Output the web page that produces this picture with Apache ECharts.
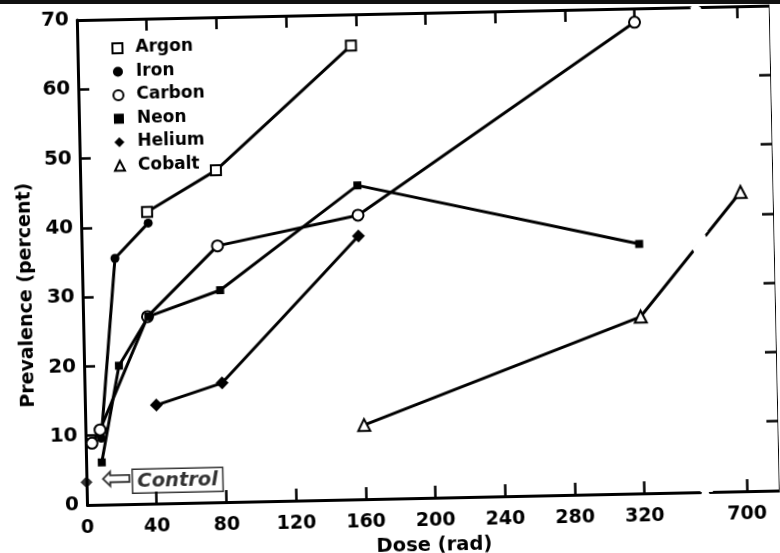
<!DOCTYPE html>
<html>
<head>
<meta charset="utf-8">
<script src="https://cdn.jsdelivr.net/npm/echarts@6.0.0/dist/echarts.min.js"></script>
<style>
html, body { margin: 0; padding: 0; background: #fff; overflow: hidden; width: 780px; height: 553px; }
#scanEdge { position: absolute; left: 0; top: 0; width: 780px; height: 4px; background: #111; z-index: 2; }
#chart { position: absolute; left: 0; top: 0; width: 780px; height: 580px;
         transform: rotate(-1.2deg); transform-origin: 87px 505px; }
</style>
</head>
<body>
<div id="scanEdge"></div>
<div id="chart"></div>
<script>
// [dose (rad), prevalence (percent)]
var argon   = [[38, 42.1], [78, 47.9], [157, 65.5]];
var iron    = [[9, 9.6], [19, 35.5], [38.5, 40.5]];
var carbon  = [[3.6, 8.9], [8.4, 10.8], [37, 27], [78, 37], [159, 41], [320, 68]];
var neon    = [[9, 6.1], [20, 20], [37.5, 27], [79, 30.6], [159, 45.3], [320, 36]];
var helium  = [[41, 14.2], [79, 17.2], [159, 38]];
var cobalt  = [[160, 10.7], [320, 25.5], [700, 43.2]];
var control = [[0, 3.3]];

var seriesNames = ['Argon', 'Iron', 'Carbon', 'Neon', 'Helium', 'Cobalt'];
var legendIcons = ['rect', 'circle', 'circle', 'rect', 'diamond', 'triangle'];
var doseTicks = [0, 40, 80, 120, 160, 200, 240, 280, 320, 700];
var topTicks = [40, 80, 120, 160, 200, 240, 280, 320, 700];
var xBreak = { start: 352, end: 679, gap: '1.45%' };

document.addEventListener('DOMContentLoaded', function () {
    var myChart = echarts.init(document.getElementById('chart'));
    var font = 'DejaVu Sans';
    var hollow = { color: '#fff', borderColor: '#000', borderWidth: 2 };
    var solid = { color: '#000', borderColor: '#000', borderWidth: 0 };
    var breakArea = {
        show: true,
        expandOnClick: false,
        zigzagAmplitude: 3,
        itemStyle: { color: '#fff', borderWidth: 0, opacity: 1 }
    };

    function lineSeries(name, data, symbol, size, style) {
        return {
            name: name,
            type: 'line',
            data: data,
            symbol: symbol,
            symbolSize: size,
            itemStyle: style,
            lineStyle: { color: '#000', width: 3 },
            z: 3
        };
    }

    var option = {
        animation: false,
        backgroundColor: '#fff',
        grid: { left: 87, right: 0, top: 20, bottom: 75, outerBoundsMode: 'none', containLabel: false },
        legend: {
            orient: 'vertical',
            left: 116,
            top: 35,
            itemWidth: 10,
            itemHeight: 10,
            itemGap: 5.5,
            selectedMode: false,
            textStyle: { fontSize: 17, fontWeight: 'bold', color: '#000', fontFamily: font, lineHeight: 18, padding: [0, 0, 0, 8] },
            data: seriesNames.map(function (n, i) { return { name: n, icon: legendIcons[i] }; })
        },
        xAxis: [{
            type: 'value',
            min: 0,
            max: 719,
            breaks: [xBreak],
            breakArea: breakArea,
            axisLine: { onZero: false, lineStyle: { color: '#000', width: 3 } },
            axisTick: { inside: true, length: 12, customValues: doseTicks, lineStyle: { color: '#000', width: 2.5 } },
            axisLabel: { customValues: doseTicks, margin: 14, color: '#000', fontSize: 19, fontWeight: 'bold', fontFamily: font },
            splitLine: { show: false },
            name: 'Dose (rad)',
            nameLocation: 'middle',
            nameGap: 36,
            nameTextStyle: { fontSize: 19.5, fontWeight: 'bold', color: '#000', fontFamily: font }
        }, {
            type: 'value',
            position: 'top',
            min: 0,
            max: 719,
            breaks: [xBreak],
            breakArea: breakArea,
            axisLine: { onZero: false, lineStyle: { color: '#000', width: 3 } },
            axisTick: { inside: true, length: 12, customValues: topTicks, lineStyle: { color: '#000', width: 2.5 } },
            axisLabel: { show: false },
            splitLine: { show: false }
        }],
        yAxis: [{
            type: 'value',
            min: 0,
            max: 70,
            interval: 10,
            axisLine: { show: true, onZero: false, lineStyle: { color: '#000', width: 3 } },
            axisTick: { show: true, inside: true, length: 11, lineStyle: { color: '#000', width: 2.5 } },
            axisLabel: { margin: 8, color: '#000', fontSize: 20, fontWeight: 'bold', fontFamily: font },
            splitLine: { show: false },
            name: 'Prevalence (percent)',
            nameLocation: 'middle',
            nameGap: 44,
            nameTextStyle: { fontSize: 19, fontWeight: 'bold', color: '#000', fontFamily: font, padding: [0, 63, 0, 0] }
        }, {
            type: 'value',
            position: 'right',
            min: 0,
            max: 70,
            interval: 10,
            axisLine: { show: true, onZero: false, lineStyle: { color: '#000', width: 3 } },
            axisTick: { show: true, inside: true, length: 12, lineStyle: { color: '#000', width: 2.5 } },
            axisLabel: { show: false },
            splitLine: { show: false }
        }],
        series: [
            lineSeries('Argon', argon, 'rect', 10, hollow),
            lineSeries('Iron', iron, 'circle', 9, solid),
            lineSeries('Carbon', carbon, 'circle', 11, hollow),
            lineSeries('Neon', neon, 'rect', 8, solid),
            lineSeries('Helium', helium, 'diamond', 13, solid),
            lineSeries('Cobalt', cobalt, 'triangle', 12, hollow),
            {
                name: 'Control',
                type: 'scatter',
                data: control,
                symbol: 'diamond',
                symbolSize: 12,
                itemStyle: solid,
                z: 4,
                label: {
                    show: true,
                    position: 'right',
                    distance: 8,
                    formatter: '{a|\u21e6}{b|Control}',
                    rich: {
                        a: { fontSize: 38, color: '#000', fontFamily: font, padding: [0, 0, 3, 0] },
                        b: {
                            fontSize: 19.5, fontStyle: 'italic', fontWeight: 'bold', color: '#000',
                            fontFamily: font, borderColor: '#000', borderWidth: 1.5, padding: [3, 5, 1, 5]
                        }
                    }
                }
            }
        ]
    };

    option && myChart.setOption(option);
});
</script>
</body>
</html>
